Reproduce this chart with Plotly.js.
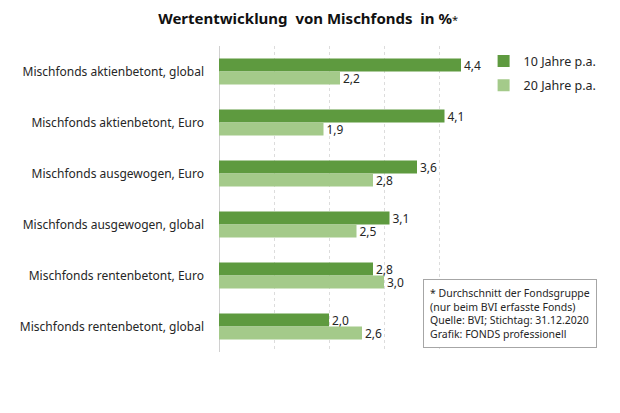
<!DOCTYPE html>
<html><head><meta charset="utf-8">
<script src="https://cdn.plot.ly/plotly-3.0.1.min.js"></script>
<style>html,body{margin:0;padding:0;background:#fff}</style>
</head><body><div id="chart" style="width:620px;height:413px"></div>
<script>
const categories = [
  "Mischfonds aktienbetont, global",
  "Mischfonds aktienbetont, Euro",
  "Mischfonds ausgewogen, Euro",
  "Mischfonds ausgewogen, global",
  "Mischfonds rentenbetont, Euro",
  "Mischfonds rentenbetont, global"
];
const series10 = [4.4, 4.1, 3.6, 3.1, 2.8, 2.0];
const series20 = [2.2, 1.9, 2.8, 2.5, 3.0, 2.6];
const seriesNames = ["10 Jahre p.a.", "20 Jahre p.a."];
const xTicks = [0, 1, 2, 3, 4, 5];

const FONT = "Noto Sans, Open Sans, sans-serif";
const fmt = v => v.toFixed(1).replace('.', ',');

const traces = [
  {type:'bar', orientation:'h', name:seriesNames[0], legendgroup:'a', y:categories, x:series10,
   marker:{color:'#5e9a3f'}, text:series10.map(fmt), textposition:'outside', constraintext:'none',
   textfont:{size:12,color:'#262626',family:FONT}, cliponaxis:false},
  {type:'bar', orientation:'h', name:seriesNames[1], legendgroup:'b', y:categories, x:series20,
   marker:{color:'#a4ca8a'}, text:series20.map(fmt), textposition:'outside', constraintext:'none',
   textfont:{size:12,color:'#262626',family:FONT}, cliponaxis:false}
];

const layout = {
  width:620, height:413,
  paper_bgcolor:'#fff', plot_bgcolor:'#fff',
  margin:{l:219, r:126, t:46, b:61, autoexpand:false},
  barmode:'group', bargap:0.49, bargroupgap:0,
  font:{family:FONT, size:12, color:'#262626'},
  title:{text:'<b>Wertentwicklung  von Mischfonds  in %</b><span style="font-size:11px">*</span>', x:0.497, xanchor:'center', y:0.955, yanchor:'middle',
         font:{family:FONT, size:15, color:'#111'}},
  xaxis:{range:[0,5], tickvals:xTicks, showticklabels:false, showgrid:true, gridcolor:'#dcdcdc', griddash:'dot', gridwidth:1,
         zeroline:true, zerolinecolor:'#d0d0d0', zerolinewidth:1, showline:false, fixedrange:true},
  yaxis:{autorange:'reversed', ticks:'', ticklabelstandoff:14, tickfont:{size:12, color:'#262626'}, showline:false, showgrid:false},
  legend:{xref:'container', yref:'container', x:0.78, xanchor:'left', y:0.888, yanchor:'top', traceorder:'grouped', font:{size:12.5, color:'#262626'},
          itemwidth:30, tracegroupgap:5, bgcolor:'rgba(0,0,0,0)'},
  annotations:[{
    xref:'paper', yref:'paper', x:0.74, y:0.238, xanchor:'left', yanchor:'top', align:'left',
    text:'* Durchschnitt der Fondsgruppe<br>(nur beim BVI erfasste Fonds)<br>Quelle: BVI; Stichtag: 31.12.2020<br>Grafik: FONDS professionell',
    showarrow:false, bordercolor:'#a6a6a6', borderwidth:1, borderpad:6, bgcolor:'#fff',
    font:{family:FONT, size:10.5, color:'#262626'}
  }]
};
Plotly.newPlot('chart', traces, layout, {displayModeBar:false, staticPlot:true});
</script></body></html>
